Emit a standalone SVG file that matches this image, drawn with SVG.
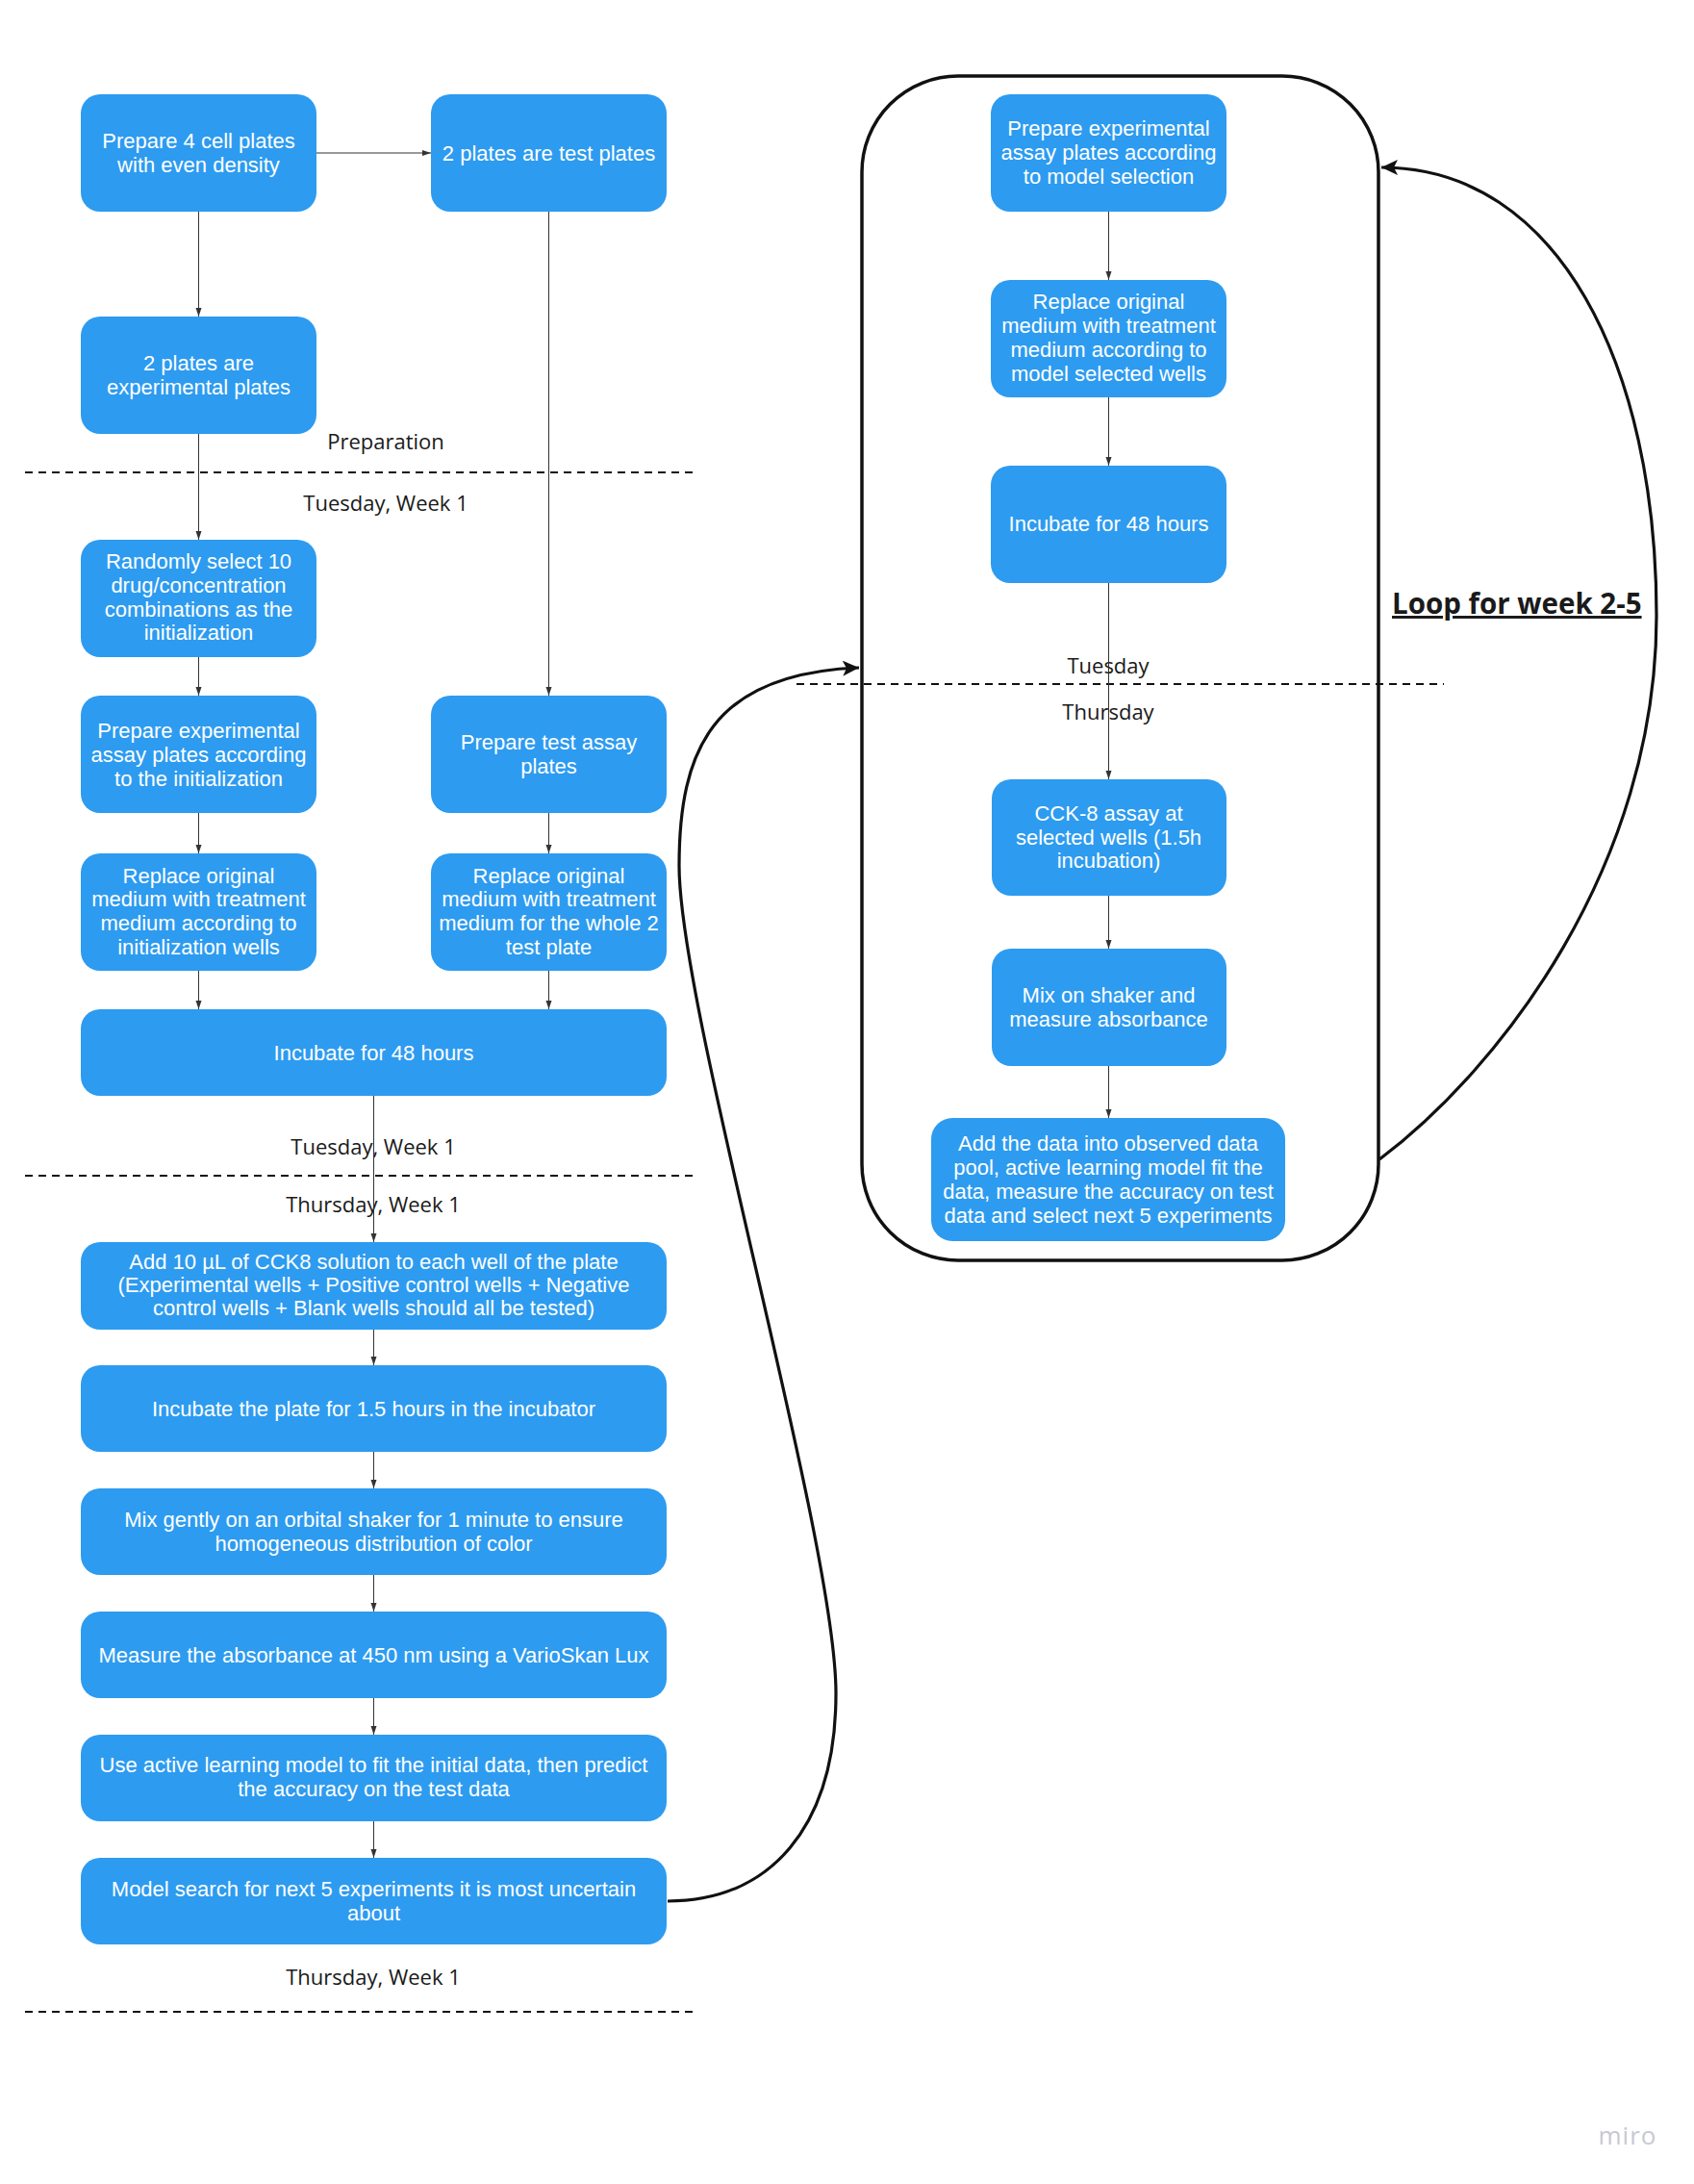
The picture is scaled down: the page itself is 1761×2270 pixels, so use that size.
<svg xmlns="http://www.w3.org/2000/svg" width="1761" height="2270" viewBox="0 0 1761 2270">
  <style>
    .node rect { fill: #2d9bf0; }
    .node text { fill: #ffffff; font-family: "Liberation Sans", Arial, sans-serif; font-size: 22px; text-anchor: middle; }
    .label { fill: #1a1a1a; font-family: "Open Sans", "Noto Sans", sans-serif; font-size: 22px; text-anchor: middle; }
    .flow { stroke: #333333; stroke-width: 1; fill: none; marker-end: url(#small); }
    .loop { stroke: #111111; stroke-width: 3.2; fill: none; marker-end: url(#big); }
    .divider { stroke: #111111; stroke-width: 2; stroke-dasharray: 8 6; fill: none; }
  </style>
  <defs>
    <marker id="small" markerUnits="userSpaceOnUse" markerWidth="10" markerHeight="8" refX="9" refY="4" orient="auto">
      <path d="M0,1 L9,4 L0,7 Z" fill="#333333"/>
    </marker>
    <marker id="big" markerUnits="userSpaceOnUse" markerWidth="18" markerHeight="16" refX="17" refY="8" orient="auto">
      <path d="M0,0 L17,8 L0,16 L4,8 Z" fill="#111111"/>
    </marker>
  </defs>

  <rect width="1761" height="2270" fill="#ffffff"/>

  <!-- phase dividers and labels -->
  <g id="dividers">
    <line class="divider" x1="26" y1="491" x2="720" y2="491"/>
    <line class="divider" x1="26" y1="1222" x2="720" y2="1222"/>
    <line class="divider" x1="26" y1="2091" x2="720" y2="2091"/>
    <line class="divider" x1="828" y1="711" x2="1501" y2="711"/>
  </g>
  <g id="labels">
    <text class="label" x="401" y="467">Preparation</text>
    <text class="label" x="401" y="531">Tuesday, Week 1</text>
    <text class="label" x="388" y="1200">Tuesday, Week 1</text>
    <text class="label" x="388" y="1260">Thursday, Week 1</text>
    <text class="label" x="388" y="2063">Thursday, Week 1</text>
    <text class="label" x="1152" y="700">Tuesday</text>
    <text class="label" x="1152" y="748">Thursday</text>
    <text x="1447" y="638" fill="#1a1a1a" font-family="'Open Sans', 'Noto Sans', sans-serif" font-size="29.5" font-weight="bold" text-decoration="underline">Loop for week 2-5</text>
  </g>

  <!-- weekly loop container -->
  <g id="loop-frame">
    <rect x="896" y="79" width="537" height="1231" rx="100" ry="100" fill="none" stroke="#111111" stroke-width="3.5"/>
  </g>

  <!-- connectors -->
  <g id="connectors">
    <line class="flow" x1="329" y1="159" x2="448" y2="159"/>
    <line class="flow" x1="206.5" y1="220" x2="206.5" y2="329"/>
    <line class="flow" x1="206.5" y1="451" x2="206.5" y2="561"/>
    <line class="flow" x1="206.5" y1="683" x2="206.5" y2="723"/>
    <line class="flow" x1="206.5" y1="845" x2="206.5" y2="887"/>
    <line class="flow" x1="206.5" y1="1009" x2="206.5" y2="1049"/>
    <line class="flow" x1="570.5" y1="220" x2="570.5" y2="723"/>
    <line class="flow" x1="570.5" y1="845" x2="570.5" y2="887"/>
    <line class="flow" x1="570.5" y1="1009" x2="570.5" y2="1049"/>
    <line class="flow" x1="388.5" y1="1139" x2="388.5" y2="1291"/>
    <line class="flow" x1="388.5" y1="1382" x2="388.5" y2="1419"/>
    <line class="flow" x1="388.5" y1="1509" x2="388.5" y2="1547"/>
    <line class="flow" x1="388.5" y1="1637" x2="388.5" y2="1675"/>
    <line class="flow" x1="388.5" y1="1765" x2="388.5" y2="1803"/>
    <line class="flow" x1="388.5" y1="1893" x2="388.5" y2="1931"/>
    <line class="flow" x1="1152.5" y1="220" x2="1152.5" y2="291"/>
    <line class="flow" x1="1152.5" y1="413" x2="1152.5" y2="484"/>
    <line class="flow" x1="1152.5" y1="606" x2="1152.5" y2="810"/>
    <line class="flow" x1="1152.5" y1="931" x2="1152.5" y2="986"/>
    <line class="flow" x1="1152.5" y1="1108" x2="1152.5" y2="1162"/>
    <path class="loop" d="M694,1976 C800,1976 869,1900 869,1760 C869,1600 706,1050 706,900 C706,780 740,700 893,694"/>
    <path class="loop" d="M1434,1205 C1560,1110 1722,900 1722,640 C1722,380 1620,174 1436,174"/>
  </g>

  <!-- week 1 steps -->
  <g id="n-prepare-plates" class="node">
    <rect x="84" y="98" width="245" height="122" rx="20"/>
    <text x="206.5" y="154">Prepare 4 cell plates</text>
    <text x="206.5" y="179">with even density</text>
  </g>
  <g id="n-test-plates" class="node">
    <rect x="448" y="98" width="245" height="122" rx="20"/>
    <text x="570.5" y="167">2 plates are test plates</text>
  </g>
  <g id="n-experimental-plates" class="node">
    <rect x="84" y="329" width="245" height="122" rx="20"/>
    <text x="206.5" y="385">2 plates are</text>
    <text x="206.5" y="410">experimental plates</text>
  </g>
  <g id="n-random-select" class="node">
    <rect x="84" y="561" width="245" height="122" rx="20"/>
    <text x="206.5" y="591">Randomly select 10</text>
    <text x="206.5" y="616">drug/concentration</text>
    <text x="206.5" y="641">combinations as the</text>
    <text x="206.5" y="665">initialization</text>
  </g>
  <g id="n-prepare-exp-assay" class="node">
    <rect x="84" y="723" width="245" height="122" rx="20"/>
    <text x="206.5" y="767">Prepare experimental</text>
    <text x="206.5" y="792">assay plates according</text>
    <text x="206.5" y="817">to the initialization</text>
  </g>
  <g id="n-prepare-test-assay" class="node">
    <rect x="448" y="723" width="245" height="122" rx="20"/>
    <text x="570.5" y="779">Prepare test assay</text>
    <text x="570.5" y="804">plates</text>
  </g>
  <g id="n-replace-init" class="node">
    <rect x="84" y="887" width="245" height="122" rx="20"/>
    <text x="206.5" y="918">Replace original</text>
    <text x="206.5" y="942">medium with treatment</text>
    <text x="206.5" y="967">medium according to</text>
    <text x="206.5" y="992">initialization wells</text>
  </g>
  <g id="n-replace-test" class="node">
    <rect x="448" y="887" width="245" height="122" rx="20"/>
    <text x="570.5" y="918">Replace original</text>
    <text x="570.5" y="942">medium with treatment</text>
    <text x="570.5" y="967">medium for the whole 2</text>
    <text x="570.5" y="992">test plate</text>
  </g>
  <g id="n-incubate-48" class="node">
    <rect x="84" y="1049" width="609" height="90" rx="20"/>
    <text x="388.5" y="1102">Incubate for 48 hours</text>
  </g>
  <g id="n-add-cck8" class="node">
    <rect x="84" y="1291" width="609" height="91" rx="20"/>
    <text x="388.5" y="1319">Add 10 µL of CCK8 solution to each well of the plate</text>
    <text x="388.5" y="1343">(Experimental wells + Positive control wells + Negative</text>
    <text x="388.5" y="1367">control wells + Blank wells should all be tested)</text>
  </g>
  <g id="n-incubate-15" class="node">
    <rect x="84" y="1419" width="609" height="90" rx="20"/>
    <text x="388.5" y="1472">Incubate the plate for 1.5 hours in the incubator</text>
  </g>
  <g id="n-mix-gently" class="node">
    <rect x="84" y="1547" width="609" height="90" rx="20"/>
    <text x="388.5" y="1587">Mix gently on an orbital shaker for 1 minute to ensure</text>
    <text x="388.5" y="1612">homogeneous distribution of color</text>
  </g>
  <g id="n-measure" class="node">
    <rect x="84" y="1675" width="609" height="90" rx="20"/>
    <text x="388.5" y="1728">Measure the absorbance at 450 nm using a VarioSkan Lux</text>
  </g>
  <g id="n-fit-model" class="node">
    <rect x="84" y="1803" width="609" height="90" rx="20"/>
    <text x="388.5" y="1842">Use active learning model to fit the initial data, then predict</text>
    <text x="388.5" y="1867">the accuracy on the test data</text>
  </g>
  <g id="n-model-search" class="node">
    <rect x="84" y="1931" width="609" height="90" rx="20"/>
    <text x="388.5" y="1971">Model search for next 5 experiments it is most uncertain</text>
    <text x="388.5" y="1996">about</text>
  </g>

  <!-- weeks 2-5 loop steps -->
  <g id="n-loop-prepare" class="node">
    <rect x="1030" y="98" width="245" height="122" rx="20"/>
    <text x="1152.5" y="141">Prepare experimental</text>
    <text x="1152.5" y="166">assay plates according</text>
    <text x="1152.5" y="191">to model selection</text>
  </g>
  <g id="n-loop-replace" class="node">
    <rect x="1030" y="291" width="245" height="122" rx="20"/>
    <text x="1152.5" y="321">Replace original</text>
    <text x="1152.5" y="346">medium with treatment</text>
    <text x="1152.5" y="371">medium according to</text>
    <text x="1152.5" y="396">model selected wells</text>
  </g>
  <g id="n-loop-incubate" class="node">
    <rect x="1030" y="484" width="245" height="122" rx="20"/>
    <text x="1152.5" y="552">Incubate for 48 hours</text>
  </g>
  <g id="n-loop-cck8" class="node">
    <rect x="1031" y="810" width="244" height="121" rx="20"/>
    <text x="1152.5" y="853">CCK-8 assay at</text>
    <text x="1152.5" y="878">selected wells (1.5h</text>
    <text x="1152.5" y="902">incubation)</text>
  </g>
  <g id="n-loop-mix" class="node">
    <rect x="1031" y="986" width="244" height="122" rx="20"/>
    <text x="1152.5" y="1042">Mix on shaker and</text>
    <text x="1152.5" y="1067">measure absorbance</text>
  </g>
  <g id="n-loop-update" class="node">
    <rect x="968" y="1162" width="368" height="128" rx="22"/>
    <text x="1152" y="1196">Add the data into observed data</text>
    <text x="1152" y="1221">pool, active learning model fit the</text>
    <text x="1152" y="1246">data, measure the accuracy on test</text>
    <text x="1152" y="1271">data and select next 5 experiments</text>
  </g>

  <text x="1692" y="2229" fill="#c8c8d2" font-family="'Open Sans', 'Noto Sans', sans-serif" font-size="26" letter-spacing="1" text-anchor="middle">miro</text>
</svg>
